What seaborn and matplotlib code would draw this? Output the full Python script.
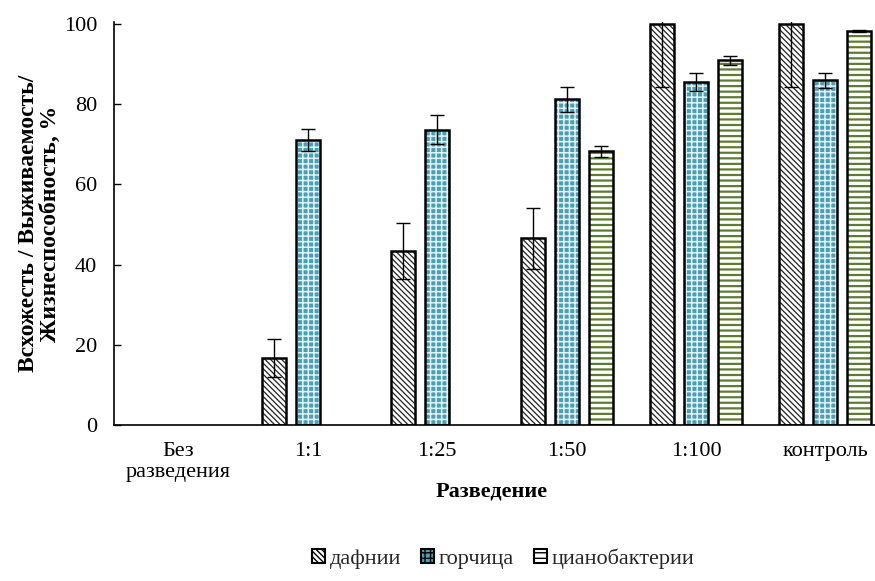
import numpy as np
import pandas as pd
import matplotlib
matplotlib.use("Agg")
import matplotlib.pyplot as plt
import seaborn as sns
from matplotlib.patches import Patch

categories = ["Без\nразведения", "1:1", "1:25", "1:50", "1:100", "контроль"]
series = ["дафнии", "горчица", "цианобактерии"]
daphnia = [0, 16.7, 43.4, 46.6, 100, 100]
daphnia_err = [0, 4.7, 7.0, 7.6, 15.7, 15.7]
mustard = [0, 71.1, 73.6, 81.2, 85.6, 86.0]
mustard_err = [0, 2.7, 3.6, 3.2, 2.3, 1.9]
cyano = [0, 0, 0, 68.3, 90.9, 98.2]
cyano_err = [0, 0, 0, 1.4, 1.2, 0.3]
yticks = [0, 20, 40, 60, 80, 100]

values = [daphnia, mustard, cyano]
errors = [daphnia_err, mustard_err, cyano_err]

df = pd.DataFrame({
    "cat": categories * 3,
    "series": np.repeat(series, len(categories)),
    "val": daphnia + mustard + cyano,
})

sns.set_style("white")
plt.rcParams["font.family"] = ["Liberation Serif", "DejaVu Serif"]
plt.rcParams["hatch.linewidth"] = 1.0

face = ["white", "#4a9fb3", "white"]
hatchcol = ["#222222", "#e2f2f6", "#5e7d33"]
hatches = ["\\\\\\\\\\\\", "+++", "---"]
hatch_lw = [0.9, 1.1, 1.6]

fig = plt.figure(figsize=(8.75, 5.81), dpi=100)
ax = fig.add_axes([114 / 875, 1 - 425 / 581, 776 / 875, 401 / 581 * 100.5 / 100])

sns.barplot(data=df, x="cat", y="val", hue="series", order=categories,
            hue_order=series, palette=face, width=0.79, gap=0.29,
            errorbar=None, legend=False, linewidth=0, ax=ax)
n = len(categories)
for i in range(3):
    for j in range(n):
        p = ax.patches[i * n + j]
        p.set_facecolor(face[i])
        p.set_edgecolor(hatchcol[i])
        p.set_hatch(hatches[i])
        p.set_linewidth(0)
        if hasattr(p, "set_hatch_linewidth"):
            p.set_hatch_linewidth(hatch_lw[i])

n_fill = len(ax.patches)
sns.barplot(data=df, x="cat", y="val", hue="series", order=categories,
            hue_order=series, palette=["black"] * 3, fill=False, width=0.79,
            gap=0.29, errorbar=None, legend=False, linewidth=1.8, ax=ax)
for p in ax.patches[n_fill:]:
    if p.get_height() == 0:
        p.set_visible(False)

for i in range(3):
    xs = np.array([ax.patches[i * n + j].get_x() + ax.patches[i * n + j].get_width() / 2
                   for j in range(n)])
    v = np.array(values[i])
    e = np.array(errors[i])
    m = v > 0
    ax.errorbar(xs[m], v[m], yerr=e[m], fmt="none", ecolor="black",
                elinewidth=1.0, capsize=5, capthick=1.0, zorder=5)

ax.set_ylim(0, 100.5)
ax.set_xlim(-0.5, n - 0.5)
ax.set_yticks(yticks)
ax.set_yticklabels([str(t) for t in yticks])
for s in ["top", "right"]:
    ax.spines[s].set_visible(False)
for s in ["left", "bottom"]:
    ax.spines[s].set_color("black")
    ax.spines[s].set_linewidth(1.2)
ax.tick_params(axis="y", direction="in", length=5, width=1, pad=12,
               labelsize=16, left=True, colors="black")
ax.tick_params(axis="x", length=0, pad=12, labelsize=16, colors="black")

ax.set_xlabel("Разведение", fontsize=16, fontweight="bold", color="black")
ax.set_ylabel("Всхожесть / Выживаемость/\nЖизнеспособность, %", fontsize=17,
              fontweight="bold", color="black", linespacing=1.05)
ax.xaxis.set_label_coords(0.487, -0.14)
ax.yaxis.set_label_coords(-0.068, 0.5)

handles = []
for i in range(3):
    h = Patch(facecolor=face[i], edgecolor="black", hatch=hatches[i], linewidth=1.5)
    handles.append(h)
leg = fig.legend(handles, series, loc="lower center", bbox_to_anchor=(0.575, -0.014),
                 ncol=3, frameon=False, fontsize=16, handlelength=0.6,
                 handleheight=0.6, handletextpad=0.2, columnspacing=0.9)

fig.savefig("out.png", dpi=100)
